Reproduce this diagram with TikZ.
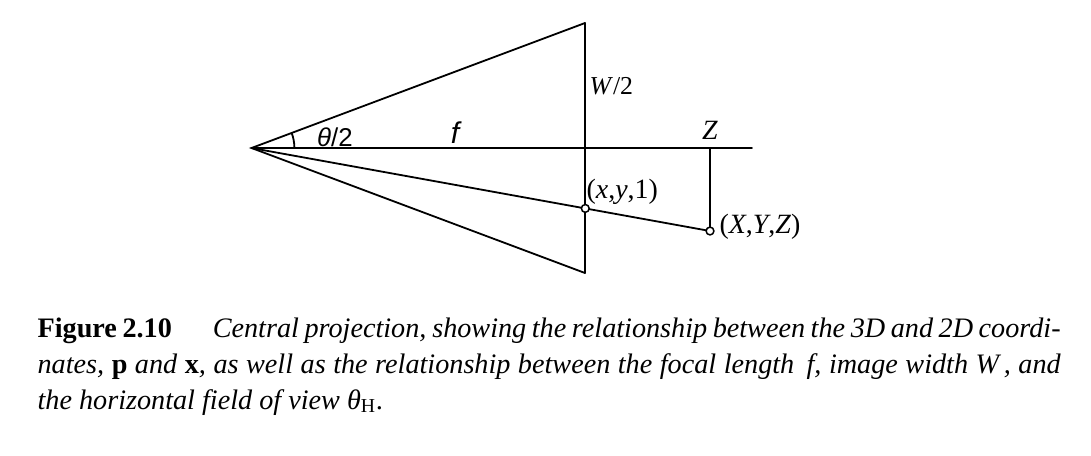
\documentclass[tikz,border=0pt]{standalone}
\usepackage{fontspec}
\setmainfont{Liberation Serif}
\newfontfamily\labsans{Liberation Sans}
\usetikzlibrary{angles,calc}
\tikzset{
  ln/.style={line width=0.6pt, line cap=round, line join=miter},
  pt/.style={circle, draw, fill=white, line width=0.5pt, minimum size=2.6pt, inner sep=0pt},
  lab/.style={inner sep=0pt, font=\fontsize{9.3}{11}\selectfont},
  sanslab/.style={inner sep=0pt, font=\labsans\fontsize{8.6}{10}\selectfont},
}
\begin{document}
\begin{tikzpicture}[x=0.33333pt, y=-0.33333pt]
\useasboundingbox (0,0) rectangle (1091,455);
\fill[white] (0,0) rectangle (1091,455);
% geometry
\coordinate (apex) at (251.5,148);
\coordinate (top) at (585,23);
\coordinate (bot) at (585,273);
\coordinate (imgc) at (585,148);
\coordinate (axend) at (752,148);
\coordinate (Zf) at (710,148);
\coordinate (P) at (710,231);
\coordinate (p) at ($(apex)!0.72797!(P)$);
\draw[ln] (top) -- (apex) -- (bot);
\draw[ln] (top) -- (bot);
\draw[ln] (apex) -- (axend);
\draw[ln] (apex) -- (P);
\draw[ln] (Zf) -- (P);
\pic[draw, line width=0.6pt, angle radius=14.3pt] {angle = axend--apex--top};
\node[pt] (pn) at (p) {};
\node[pt] (Pn) at (P) {};
% labels
\node[sanslab] (th) at (335,137.5) {\textit{θ}/2};
\node[sanslab, font=\labsans\itshape\fontsize{10}{12}\selectfont] (fl) at (455,133) {f};
\node[lab, anchor=west, font=\fontsize{8.6}{10}\selectfont] (wl) at (589,86) {\textit{W}/2};
\node[lab] (zl) at (710,130) {\textit{Z}};
\node[lab, anchor=west] (xl) at (586,192) {(\textit{x},\textit{y},1)};
\node[lab, anchor=west] (Xl) at (719,227) {(\textit{X},\textit{Y},\textit{Z})};
% caption
\node[anchor=north west, inner sep=0pt, text width=341pt, align=justify,
      font=\fontsize{9.4}{12}\selectfont] (cap) at (37,317)
 {\textbf{Figure 2.10}\hspace{1.45em}\textit{Central projection, showing the relationship between the 3D and 2D coordi-\linebreak
 nates, \textbf{\upshape p} and \textbf{\upshape x}, as well as the relationship between the focal length \,f, image width W\,, and\linebreak
 the horizontal field of view θ\textsubscript{\upshape H}.}};
\end{tikzpicture}
\end{document}
